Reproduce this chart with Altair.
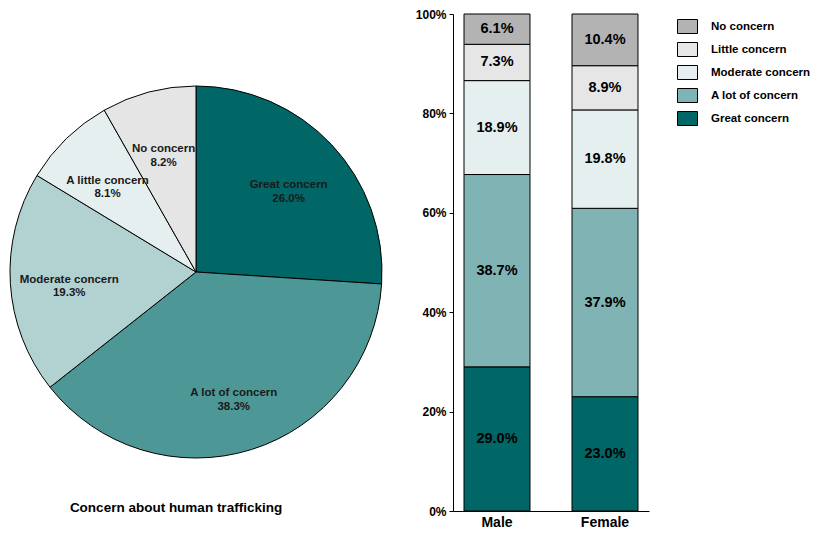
import altair as alt
import pandas as pd

FONT = "Liberation Sans"

# ---- pie data ----
pie_cats = ["Great concern", "A lot of concern", "Moderate concern", "A little concern", "No concern"]
pie_vals = [26.0, 38.3, 19.3, 8.1, 8.2]
pie_colors = ["#006666", "#4e9797", "#b2d1d1", "#e6efef", "#e5e5e5"]
pie_title = "Concern about human trafficking"

# ---- bar data ----
genders = ["Male", "Female"]
bar_cats = ["Great concern", "A lot of concern", "Moderate concern", "Little concern", "No concern"]
bar_colors = ["#006666", "#80b3b3", "#e6efef", "#e6e6e6", "#b3b3b3"]
male_vals = [29.0, 38.7, 18.9, 7.3, 6.1]
female_vals = [23.0, 37.9, 19.8, 8.9, 10.4]
y_ticks = [0, 20, 40, 60, 80, 100]

pie_df = pd.DataFrame({
    "cat": pie_cats,
    "value": pie_vals,
    "idx": list(range(len(pie_cats))),
    "color": pie_colors,
})
pie_df["label"] = [f"{c}\n{v:.1f}%" for c, v in zip(pie_cats, pie_vals)]

rows = []
for g, vals in zip(genders, [male_vals, female_vals]):
    cum = 0.0
    for c, v in zip(bar_cats, vals):
        rows.append({"gender": g, "cat": c, "y0": cum, "y1": cum + v,
                     "mid": cum + v / 2, "label": f"{v:.1f}%"})
        cum += v
bar_df = pd.DataFrame(rows)

CX, CY, R = 186, 258, 186
H = 497

pie_base = alt.Chart(pie_df).encode(
    theta=alt.Theta("value:Q", stack=True),
    order=alt.Order("idx:Q", sort="ascending"),
)
arcs = pie_base.mark_arc(outerRadius=R, stroke="black", strokeWidth=1).encode(
    color=alt.Color("color:N", scale=None),
    x=alt.value(CX), y=alt.value(CY),
)
pie_text = pie_base.mark_text(
    radius=127, font=FONT, fontSize=11.5, fontWeight="bold", color="#1a1a1a",
    lineBreak="\n", lineHeight=13.5,
).encode(text="label:N", x=alt.value(CX), y=alt.value(CY))

title_text = alt.Chart(pd.DataFrame({"t": [pie_title]})).mark_text(
    font=FONT, fontSize=13.5, fontWeight="bold", color="black"
).encode(text="t:N", x=alt.value(166), y=alt.value(494))

pie = alt.layer(arcs, pie_text, title_text).properties(width=372, height=H)

legend_order = list(reversed(bar_cats))
legend_colors = list(reversed(bar_colors))

x_enc = alt.X(
    "gender:N", sort=genders,
    scale=alt.Scale(paddingInner=0.389, paddingOuter=0.102),
    axis=alt.Axis(title=None, labelAngle=0, ticks=False, domainColor="black",
                  labelFont=FONT, labelFontSize=14, labelFontWeight="bold",
                  labelColor="black", labelPadding=4),
)

bars = alt.Chart(bar_df).mark_bar(stroke="black", strokeWidth=1).encode(
    x=x_enc,
    y=alt.Y("y0:Q", scale=alt.Scale(domain=[0, 100], nice=False),
            axis=alt.Axis(values=y_ticks, labelExpr="datum.value + '%'", title=None,
                          grid=False, tickColor="black", tickSize=4, domainColor="black",
                          labelFont=FONT, labelFontWeight="bold", labelFontSize=12,
                          labelColor="black", labelPadding=3)),
    y2="y1:Q",
    color=alt.Color(
        "cat:N",
        scale=alt.Scale(domain=legend_order, range=legend_colors),
        legend=alt.Legend(
            title=None, orient="none", legendX=667, legendY=2,
            symbolType="M-1,-0.7L1,-0.7L1,0.7L-1,0.7Z", symbolSize=400,
            symbolStrokeColor="black", symbolStrokeWidth=1, symbolOpacity=1,
            labelFont=FONT, labelFontSize=11.5, labelFontWeight="bold",
            labelColor="black", labelOffset=13, rowPadding=3,
        ),
    ),
)

bar_text = alt.Chart(bar_df).mark_text(
    font=FONT, fontSize=14.5, fontWeight="bold", color="black"
).encode(
    x=alt.X("gender:N", sort=genders),
    y=alt.Y("mid:Q"),
    text="label:N",
)

bar_chart = alt.layer(bars, bar_text).properties(width=196, height=H)

chart = alt.hconcat(pie, bar_chart, spacing=31).properties(
    padding={"left": 0, "top": 0, "right": 0, "bottom": 0}
).configure_view(stroke=None)

chart.save("out.html", embed_options={"renderer": "svg", "actions": False})
